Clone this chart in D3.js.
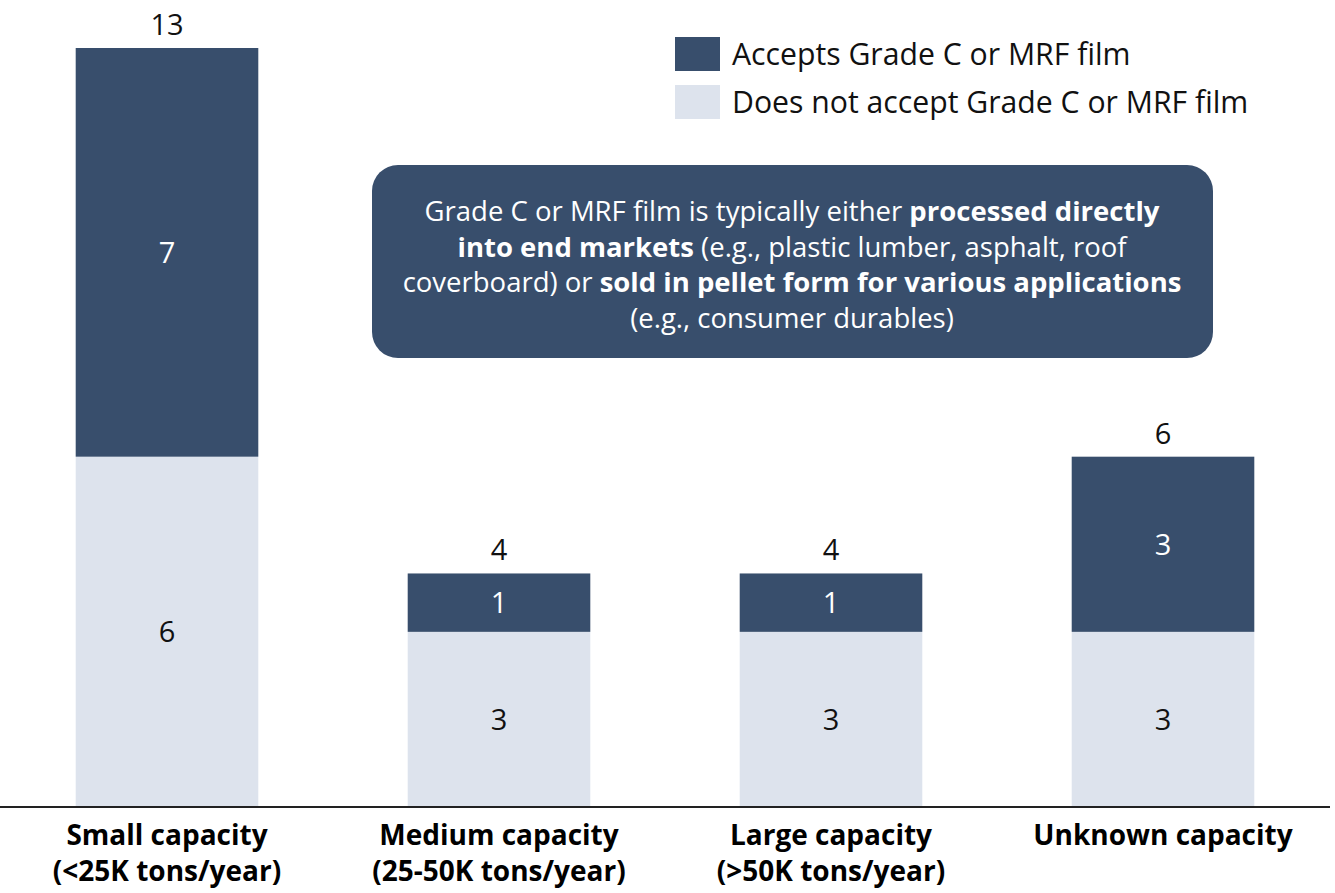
<!DOCTYPE html>
<html>
<head>
<meta charset="utf-8">
<script src="https://cdn.jsdelivr.net/npm/d3@7"></script>
<style>
  body { margin: 0; background: #fff; }
  svg text { font-family: "Open Sans", "Noto Sans", sans-serif; }
</style>
</head>
<body>
<svg id="chart" width="1335" height="893"></svg>
<script>
const categories = ["Small capacity", "Medium capacity", "Large capacity", "Unknown capacity"];
const subLabels = ["(<25K tons/year)", "(25-50K tons/year)", "(>50K tons/year)", ""];
const notAccept = [6, 3, 3, 3];
const accepts = [7, 1, 1, 3];
const seriesNames = ["Accepts Grade C or MRF film", "Does not accept Grade C or MRF film"];
const colours = ["#384e6c", "#dde3ed"];

const svg = d3.select("#chart");
const baseY = 807;

const x = d3.scaleBand()
    .domain(categories)
    .range([0, 1330])
    .paddingInner(0.45)
    .paddingOuter(0.228);

const y = d3.scaleLinear()
    .domain([0, 13])
    .range([baseY, 48]);

const rows = categories.map(function(c, i) {
  return {cat: c, notAccept: notAccept[i], accepts: accepts[i]};
});
const stack = d3.stack().keys(["notAccept", "accepts"])(rows);
const fills = {notAccept: colours[1], accepts: colours[0]};
const textFill = {notAccept: "#111", accepts: "#fff"};

// stacked bars
const layers = svg.selectAll("g.layer")
    .data(stack)
    .enter()
    .append("g")
    .attr("class", "layer")
    .attr("fill", function(d) { return fills[d.key]; });

layers.selectAll("rect")
    .data(function(d) { return d; })
    .enter()
    .append("rect")
    .attr("x", function(d) { return x(d.data.cat); })
    .attr("y", function(d) { return y(d[1]); })
    .attr("width", x.bandwidth())
    .attr("height", function(d) { return y(d[0]) - y(d[1]); });

// segment labels
stack.forEach(function(layer) {
  svg.append("g")
      .selectAll("text")
      .data(layer)
      .enter()
      .append("text")
      .attr("x", function(d) { return x(d.data.cat) + x.bandwidth() / 2; })
      .attr("y", function(d) { return (y(d[0]) + y(d[1])) / 2; })
      .attr("dy", "0.36em")
      .attr("text-anchor", "middle")
      .attr("font-size", 29)
      .attr("fill", textFill[layer.key])
      .text(function(d) { return d[1] - d[0]; });
});

// totals
svg.append("g")
    .selectAll("text")
    .data(rows)
    .enter()
    .append("text")
    .attr("x", function(d) { return x(d.cat) + x.bandwidth() / 2; })
    .attr("y", function(d) { return y(d.notAccept + d.accepts) - 13; })
    .attr("text-anchor", "middle")
    .attr("font-size", 29)
    .attr("fill", "#111")
    .text(function(d) { return d.notAccept + d.accepts; });

// baseline axis
svg.append("line")
    .attr("x1", 0)
    .attr("x2", 1330)
    .attr("y1", baseY)
    .attr("y2", baseY)
    .attr("stroke", "#222")
    .attr("stroke-width", 2);

// category labels (two lines, kept as separate texts)
const catG = svg.append("g")
    .attr("font-size", 28)
    .attr("font-weight", "bold")
    .attr("fill", "#000")
    .attr("text-anchor", "middle");
catG.selectAll("text.l1")
    .data(categories)
    .enter()
    .append("text")
    .attr("class", "l1")
    .attr("x", function(d) { return x(d) + x.bandwidth() / 2; })
    .attr("y", 845)
    .text(function(d) { return d; });
catG.selectAll("text.l2")
    .data(categories.filter(function(d, i) { return subLabels[i]; }))
    .enter()
    .append("text")
    .attr("class", "l2")
    .attr("x", function(d) { return x(d) + x.bandwidth() / 2; })
    .attr("y", 881)
    .text(function(d) { return subLabels[categories.indexOf(d)]; });

// legend
const legend = svg.append("g")
    .selectAll("g")
    .data(seriesNames)
    .enter()
    .append("g")
    .attr("transform", function(d, i) { return "translate(675," + (37 + i * 48) + ")"; });
legend.append("rect")
    .attr("width", 45)
    .attr("height", 34)
    .attr("fill", function(d, i) { return colours[i]; });
legend.append("text")
    .attr("x", 57)
    .attr("y", 17)
    .attr("dy", "0.36em")
    .attr("font-size", 30.2)
    .attr("fill", "#111")
    .text(function(d) { return d; });

// annotation box
svg.append("rect")
    .attr("x", 372)
    .attr("y", 165)
    .attr("width", 841)
    .attr("height", 193)
    .attr("rx", 26)
    .attr("fill", colours[0]);

const noteLines = [
  [["Grade C or MRF film is typically either ", false], ["processed directly", true]],
  [["into end markets", true], [" (e.g., plastic lumber, asphalt, roof", false]],
  [["coverboard) or ", false], ["sold in pellet form for various applications", true]],
  [["(e.g., consumer durables)", false]]
];
const note = svg.append("text")
    .attr("text-anchor", "middle")
    .attr("font-size", 27.5)
    .attr("fill", "#fff");
noteLines.forEach(function(line, i) {
  line.forEach(function(part, j) {
    const t = note.append("tspan")
        .attr("font-weight", part[1] ? "bold" : "normal")
        .text(part[0]);
    if (j === 0) t.attr("x", 792).attr("y", 221 + i * 35.5);
  });
});
</script>
</body>
</html>
